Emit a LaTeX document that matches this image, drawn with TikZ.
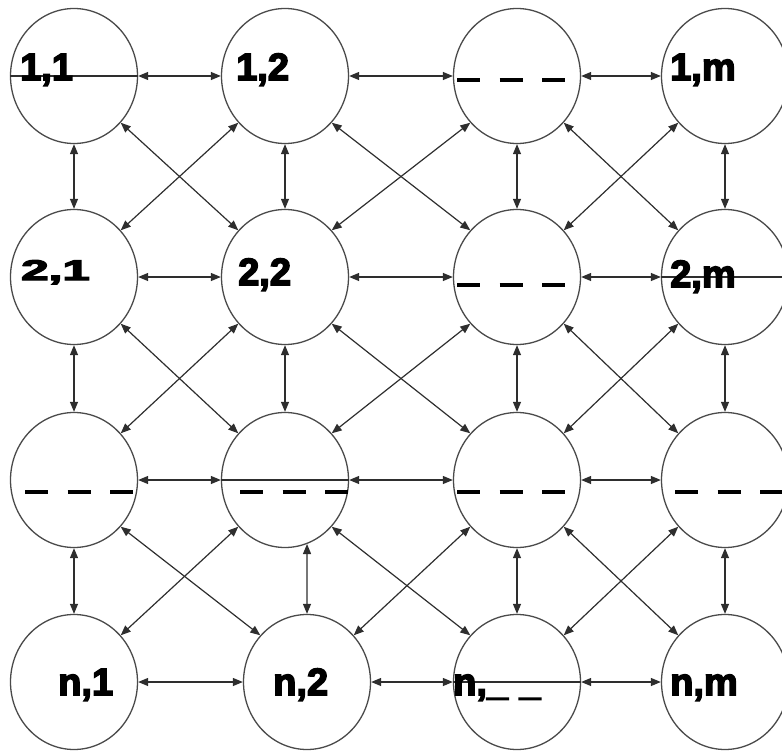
\documentclass[tikz,border=0pt]{standalone}
\usepackage{fontspec}
\usepackage{graphicx}
\usetikzlibrary{arrows.meta,shapes.geometric}
\newfontfamily\labfont{Liberation Sans}[BoldFeatures={FakeBold=4}]
\definecolor{edge}{HTML}{2E2E2E}
\definecolor{rim}{HTML}{4A4A4A}
\begin{document}
\begin{tikzpicture}[x=1pt,y=-1pt,
 cell/.style={ellipse,draw=rim,line width=1.3pt,minimum width=127pt,minimum height=135pt,inner sep=0pt},
 link/.style={draw=edge,line width=1.2pt,{Triangle[length=10pt,width=8pt]}-{Triangle[length=10pt,width=8pt]}},
 thru/.style={draw=edge,line width=1.2pt},
 lab/.style={anchor=base west,inner sep=0pt,font=\labfont\bfseries\fontsize{38}{40}\selectfont},
 gapline/.style={line width=4.5pt,dash pattern=on 23pt off 19.5pt}]
\useasboundingbox (0,0) rectangle (782,752);
% cells
\node[cell] (a11) at (74,76) {};
\node[cell] (a12) at (285,76) {};
\node[cell] (a13) at (517,76) {};
\node[cell] (a14) at (725,76) {};
\node[cell] (a21) at (74,277) {};
\node[cell] (a22) at (285,277) {};
\node[cell] (a23) at (517,277) {};
\node[cell] (a24) at (725,277) {};
\node[cell] (a31) at (74,480) {};
\node[cell] (a32) at (285,480) {};
\node[cell] (a33) at (517,480) {};
\node[cell] (a34) at (725,480) {};
\node[cell] (a41) at (74,682) {};
\node[cell] (a42) at (307,682) {};
\node[cell] (a43) at (517,682) {};
\node[cell] (a44) at (725,682) {};
% horizontal links
\foreach \r in {1,2,3,4}{
  \draw[link] (a\r1.east) -- (a\r2.west);
  \draw[link] (a\r2.east) -- (a\r3.west);
  \draw[link] (a\r3.east) -- (a\r4.west);
}
% lines running through cells
\draw[thru] (a11.west) -- (a11.east);
\draw[thru] (a24.west) -- (a24.east);
\draw[thru] (a32.west) -- (a32.east);
\draw[thru] (a43.west) -- (a43.east);
% vertical links
\foreach \c in {1,2,3,4}{
  \draw[link] (a1\c.south) -- (a2\c.north);
  \draw[link] (a2\c.south) -- (a3\c.north);
}
\draw[link] (a31.south) -- (a41.north);
\draw[link] (a32.-71) -- (a42.north);
\draw[link] (a33.south) -- (a43.north);
\draw[link] (a34.south) -- (a44.north);
% diagonal links
\foreach \r/\s in {1/2,2/3,3/4}{
  \foreach \c/\d in {1/2,2/3,3/4}{
    \draw[link] (a\r\c.-45) -- (a\s\d.135);
    \draw[link] (a\r\d.-135) -- (a\s\c.45);
  }
}
% labels
\node[lab] (l11) at (20,80) {1,1};
\node[lab] (l12) at (236,80) {1,2};
\node[lab] (l14) at (670,80) {1,m};
\node[lab] (l21) at (21,280) {\scalebox{1.3}[0.75]{2,1}};
\node[lab] (l22) at (238,285) {2,2};
\node[lab] (l24) at (670,287) {2,m};
\node[lab] (l41) at (58,695) {n,1};
\node[lab] (l42) at (273,695) {n,2};
\node[lab] (l43) at (453,695) {n,\_\hspace{0.3em}\_};
\node[lab] (l44) at (670,695) {n,m};
% dashed placeholders
\draw[gapline] (457,80) -- (566,80);
\draw[gapline] (457,285) -- (566,285);
\draw[gapline] (25,492) -- (133,492);
\draw[gapline] (240,492) -- (348,492);
\draw[gapline] (457,492) -- (566,492);
\draw[gapline] (675,492) -- (790,492);
\end{tikzpicture}
\end{document}
